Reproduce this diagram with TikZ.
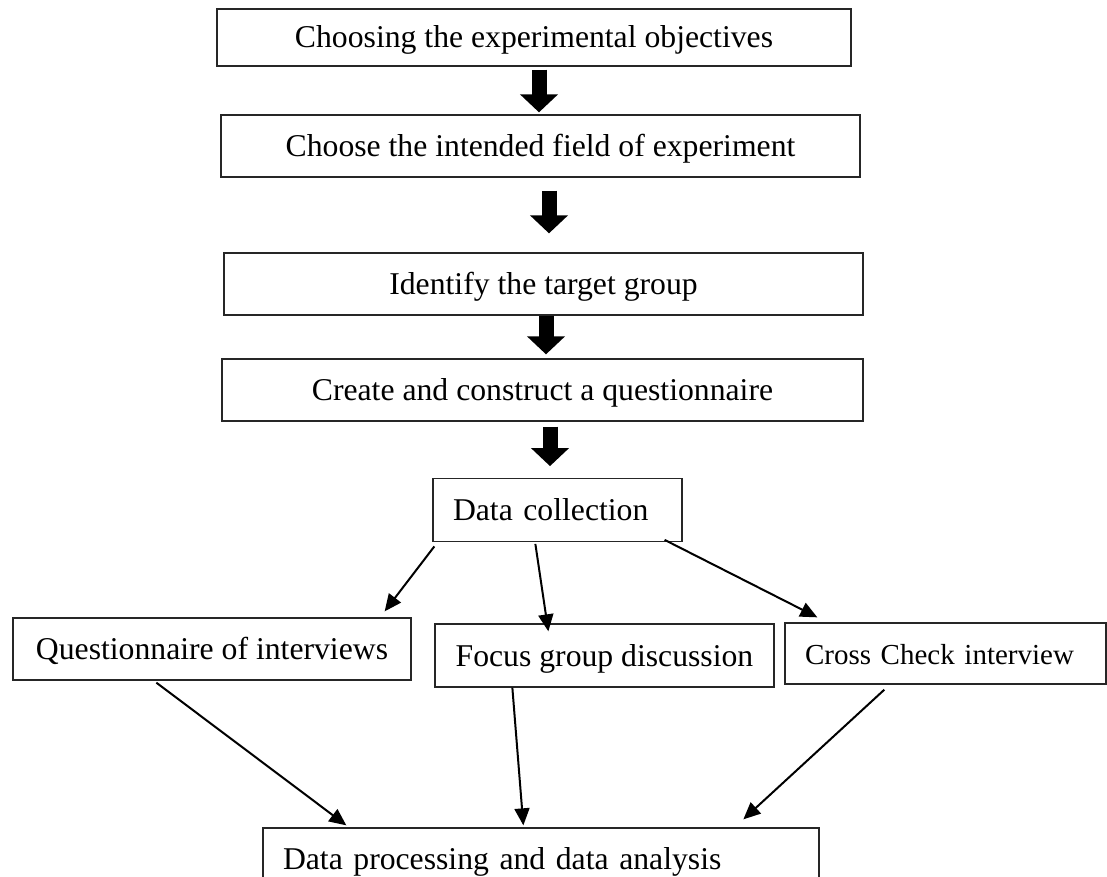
\documentclass[tikz,border=0pt]{standalone}
\usepackage{fontspec}
\setmainfont{Liberation Serif}
\usetikzlibrary{arrows.meta,calc}
\begin{document}
\begin{tikzpicture}[x=1pt,y=-1pt,
  box/.style={draw=black!85, line width=1.3pt, inner sep=0pt, text height=21pt, text depth=0pt,
    font=\fontsize{31.7}{38}\selectfont, anchor=center},
  blk/.style={line width=15pt, -{Triangle[width=37pt,length=18pt]}},
  con/.style={line width=2pt, -{Triangle[width=15pt,length=17pt]}},
]
\useasboundingbox (0,0) rectangle (1107,877);

\node[box, minimum width=634pt, minimum height=57pt] (b1) at (534,37.5) {Choosing the experimental objectives};
\node[box, minimum width=639pt, minimum height=62pt] (b2) at (540.5,146) {Choose the intended field of experiment};
\node[box, minimum width=639pt, minimum height=62pt] (b3) at (543.5,284) {Identify the target group};
\node[box, minimum width=641pt, minimum height=62pt] (b4) at (542.5,390) {Create and construct a questionnaire};
\node[box, text width=209pt, inner xsep=20pt, align=left, minimum height=62.5pt] (dc) at (557.5,510) {Data collection};
\node[box, minimum width=398pt, minimum height=62pt] (q) at (212,649) {Questionnaire of interviews};
\node[box, minimum width=339pt, minimum height=63pt] (f) at (604.5,655.5) {Focus group discussion};
\node[box, text width=281pt, inner xsep=20pt, align=left, minimum height=61pt,
  font=\fontsize{29}{35}\selectfont] (c) at (945.5,653.5) {Cross Check interview};
\node[box, text width=516pt, inner xsep=20pt, align=left, minimum height=62pt] (dp) at (541,859) {Data processing and data analysis};

\draw[blk] ($(b1.south)+(5,3)$) -- ($(b2.north)+(-1.5,-2)$);
\draw[blk] ($(b2.south)+(8.5,13)$) -- ($(b3.north)+(5.5,-19)$);
\draw[blk] ($(b3.south)+(2.5,0)$) -- ($(b4.north)+(3.5,-4)$);
\draw[blk] ($(b4.south)+(7.5,5)$) -- ($(dc.north)+(-7.5,-12)$);

\draw[con] ($(dc.south west)+(2,4.5)$) -- ($(q.north east)+(-27,-6)$);
\draw[con] ($(dc.south west)+(103,2)$) -- ($(f.north west)+(114,8)$);
\draw[con] ($(dc.south east)+(-18,-2)$) -- ($(c.north west)+(33,-5)$);

\draw[con] ($(q.south west)+(144,2)$) -- ($(dp.north west)+(84,-2)$);
\draw[con] ($(f.south west)+(78,0)$) -- ($(dp.north west)+(261,-2)$);
\draw[con] ($(c.south west)+(100,5)$) -- ($(dp.north west)+(481,-8)$);
\end{tikzpicture}
\end{document}
